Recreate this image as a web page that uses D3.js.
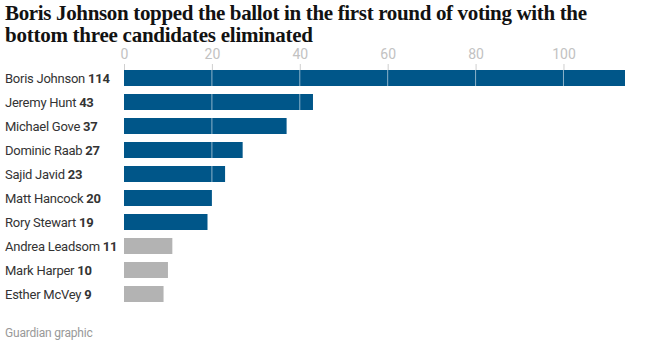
<!DOCTYPE html>
<html>
<head>
<meta charset="utf-8">
<script src="https://cdn.jsdelivr.net/npm/d3@7"></script>
<style>
	body { margin: 0; background: #fff; }
	svg { display: block; }
</style>
</head>
<body>
<div id="chart"></div>
<script>
var candidates = ['Boris Johnson', 'Jeremy Hunt', 'Michael Gove', 'Dominic Raab', 'Sajid Javid',
	'Matt Hancock', 'Rory Stewart', 'Andrea Leadsom', 'Mark Harper', 'Esther McVey'];
var votes = [114, 43, 37, 27, 23, 20, 19, 11, 10, 9];
var eliminated = [false, false, false, false, false, false, false, true, true, true];
var xTicks = [0, 20, 40, 60, 80, 100];
var titleLines = ['Boris Johnson topped the ballot in the first round of voting with the',
	'bottom three candidates eliminated'];
var titleWidths = [582, 308];
var source = 'Guardian graphic';

var width = 671, height = 345;
var margins = { L: 124, R: 46, T: 70 };
var step = 24, barH = 16;

var svg = d3.select('#chart').append('svg')
	.attr('width', width)
	.attr('height', height);

// title
svg.append('g').selectAll('text')
	.data(titleLines)
.enter().append('text')
	.attr('x', 5)
	.attr('y', (d, i) => 20 + i * 22)
	.attr('textLength', (d, i) => titleWidths[i])
	.attr('lengthAdjust', 'spacing')
	.style('font-family', '"Liberation Serif", serif')
	.style('font-weight', 'bold')
	.style('font-size', '21px')
	.style('fill', '#121212')
	.text(d => d);

var data = candidates.map((name, i) => ({ name: name, value: votes[i], out: eliminated[i] }));

var xScale = d3.scaleLinear()
	.domain([0, 114])
	.range([margins.L, width - margins.R]);

var yScale = d3.scaleBand()
	.domain(candidates)
	.range([margins.T, margins.T + candidates.length * step - (step - barH)])
	.paddingInner((step - barH) / step)
	.paddingOuter(0);

// axis on top: labels + short grey ticks
var axis = svg.append('g')
	.attr('transform', 'translate(0,' + (margins.T - 6) + ')')
	.call(d3.axisTop(xScale).tickValues(xTicks).tickSize(0).tickPadding(0));
axis.select('.domain').remove();
axis.selectAll('text')
	.attr('y', -5)
	.style('font-family', 'Roboto, sans-serif')
	.style('font-size', '14px')
	.style('fill', '#c2c2c2');
axis.selectAll('.tick').append('line')
	.attr('y1', 0)
	.attr('y2', 6)
	.attr('stroke', '#cfcfcf');

// bars
svg.append('g').selectAll('rect')
	.data(data)
.enter().append('rect')
	.attr('x', xScale(0))
	.attr('y', d => yScale(d.name))
	.attr('width', d => xScale(d.value) - xScale(0))
	.attr('height', yScale.bandwidth())
	.style('fill', d => d.out ? '#b3b3b3' : '#005689');

// gridlines over bars only
var grid = svg.append('g');
data.forEach(function(d) {
	grid.selectAll(null)
		.data(xTicks.filter(t => t > 0 && t < d.value))
	.enter().append('line')
		.attr('x1', t => xScale(t))
		.attr('x2', t => xScale(t))
		.attr('y1', yScale(d.name))
		.attr('y2', yScale(d.name) + yScale.bandwidth())
		.attr('stroke', '#ffffff')
		.attr('stroke-opacity', 0.55)
		.attr('stroke-width', 1);
});

// candidate labels
var labels = svg.append('g').selectAll('text')
	.data(data)
.enter().append('text')
	.attr('x', 5)
	.attr('y', d => yScale(d.name) + yScale.bandwidth() / 2)
	.attr('dy', '0.35em')
	.style('font-family', 'Roboto, sans-serif')
	.style('font-size', '13px')
	.style('letter-spacing', '-0.25px')
	.style('fill', '#333');
labels.append('tspan').text(d => d.name + ' ');
labels.append('tspan').style('font-weight', 'bold').text(d => d.value);

// source
svg.append('text')
	.attr('x', 5)
	.attr('y', 337)
	.style('font-family', 'Roboto, sans-serif')
	.style('font-size', '12px')
	.style('letter-spacing', '-0.2px')
	.style('fill', '#999')
	.text(source);
</script>
</body>
</html>
